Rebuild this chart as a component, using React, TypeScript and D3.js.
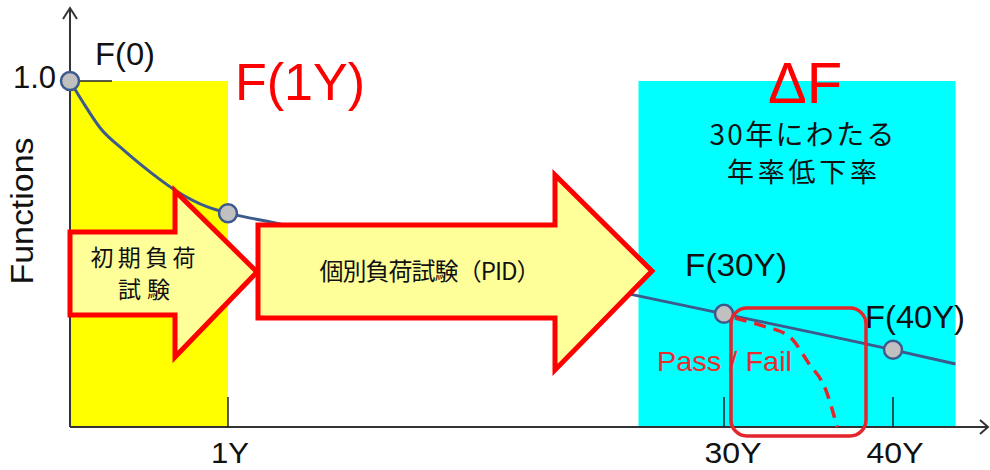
import React from 'react';
import * as d3 from 'd3';

// ---- data ----
const years = [0, 0.08, 0.19, 0.34, 0.51, 0.68, 0.87, 1, 2.9, 10, 20, 24.5, 30, 40, 43.7];
const functionValues = [1.0, 0.94, 0.865, 0.8, 0.736, 0.68, 0.636, 0.618, 0.598, 0.53, 0.43, 0.384, 0.327, 0.223, 0.182];
const markerYears = [0, 1, 30, 40];
const markerValues = [1.0, 0.618, 0.327, 0.223];
const failYears = [30.65, 32.1, 33.9, 35.0, 36.0, 36.7];
const failValues = [0.315, 0.295, 0.26, 0.185, 0.11, 0.0];
const xTickYears = [1, 30, 40];
const xTickLabels = ['1Y', '30Y', '40Y'];
const yTickValues = [1.0];
const yTickLabels = ['1.0'];
const axisBreakYears = [0, 1, 30, 40];
const initialPeriod = [0, 1];
const deltaPeriod = [25, 43.7];

const LATIN = '"Liberation Sans", Arial, sans-serif';
const CJK = '"Noto Sans CJK JP", "Noto Sans", sans-serif';

export default function App() {
  const W = 990, H = 470;
  const x = d3.scaleLinear().domain(axisBreakYears).range([70, 228, 724, 893]);
  const y = d3.scaleLinear().domain([0, 1]).range([427, 81]);
  const x0 = x(0), y0 = y(0);

  const mainLine = d3.line<number>()
    .x((_, i) => x(years[i]))
    .y((_, i) => y(functionValues[i]))
    .curve(d3.curveMonotoneX)(years) as string;

  const failLine = d3.line<number>()
    .x((_, i) => x(failYears[i]))
    .y((_, i) => y(failValues[i]))
    .curve(d3.curveMonotoneX)(failYears) as string;

  const arrow1 = [[70, 232], [175, 232], [175, 191], [257, 272], [175, 357], [175, 315], [70, 315]];
  const arrow2 = [[258, 225], [555, 225], [555, 175], [652, 271], [555, 370], [555, 318], [258, 318]];
  const pts = (p: number[][]) => p.map(q => q.join(',')).join(' ');

  const lineColor = '#3d5a8c';
  const red = '#ff0000';
  const darkRed = '#e3262b';

  return (
    <svg width={W} height={H} style={{ position: 'absolute', left: 0, top: 0, background: '#fff' }}>
      {/* shaded periods */}
      <rect x={x(initialPeriod[0])} y={y(1)} width={x(initialPeriod[1]) - x(initialPeriod[0])} height={y0 - y(1)} fill="#ffff00" />
      <rect x={x(deltaPeriod[0])} y={y(1)} width={x(deltaPeriod[1]) - x(deltaPeriod[0])} height={y0 - y(1)} fill="#00ffff" />

      {/* axes */}
      <line x1={x0} y1={y0} x2={x0} y2={8} stroke="#333" strokeWidth={2} />
      <polyline points="63,19 70,8 77,19" fill="none" stroke="#333" strokeWidth={2} />
      <line x1={x0} y1={y0} x2={988} y2={y0} stroke="#333" strokeWidth={2} />
      <polyline points="980,420 988,427 980,434" fill="none" stroke="#333" strokeWidth={2} />

      {xTickYears.map((t, i) => (
        <g key={'xt' + i}>
          <line x1={x(t)} x2={x(t)} y1={y0 - 30} y2={y0} stroke="#222" strokeWidth={1.5} />
          <text x={x(t) + (i === 1 ? 9 : 2)} y={463} fontFamily={LATIN} fontSize={30} textAnchor="middle" textLength={i === 0 ? 38 : 57} lengthAdjust="spacingAndGlyphs" fill="#111">{xTickLabels[i]}</text>
        </g>
      ))}
      {yTickValues.map((v, i) => (
        <g key={'yt' + i}>
          <line x1={x0} x2={x0 + 42} y1={y(v)} y2={y(v)} stroke="#222" strokeWidth={1.5} />
          <text x={56} y={y(v) + 7} fontFamily={LATIN} fontSize={31} textAnchor="end" fill="#111">{yTickLabels[i]}</text>
        </g>
      ))}

      <text transform={`translate(33,211) rotate(-90)`} fontFamily={LATIN} fontSize={31} textAnchor="middle" textLength={147} lengthAdjust="spacingAndGlyphs" fill="#111">Functions</text>

      {/* curves */}
      <path d={mainLine} fill="none" stroke={lineColor} strokeWidth={3} />
      <path d={failLine} fill="none" stroke={darkRed} strokeWidth={3.5} strokeDasharray="12 8" />

      {/* markers */}
      {markerYears.map((t, i) => (
        <circle key={'m' + i} cx={x(t)} cy={y(markerValues[i])} r={9} fill="#c0c0c0" stroke={lineColor} strokeWidth={2.5} />
      ))}

      {/* arrows */}
      <polygon points={pts(arrow1)} fill="#ffff99" stroke={red} strokeWidth={5} strokeLinejoin="miter" />
      <polygon points={pts(arrow2)} fill="#ffff99" stroke={red} strokeWidth={5} strokeLinejoin="miter" />

      <text x={143} y={266} fontFamily={CJK} fontSize={23} textAnchor="middle" textLength={105} fill="#111">初期負荷</text>
      <text x={144} y={298} fontFamily={CJK} fontSize={23} textAnchor="middle" textLength={52} fill="#111">試験</text>
      <text x={430} y={280} fontFamily={CJK} fontSize={24} textAnchor="middle" textLength={221} fill="#111">個別負荷試験（PID）</text>

      {/* annotations */}
      <text x={95} y={65} fontFamily={LATIN} fontSize={31} textLength={60} lengthAdjust="spacingAndGlyphs" fill="#111">F(0)</text>
      <text x={235} y={100} fontFamily={LATIN} fontSize={52} fill={red}>F(1Y)</text>
      <text x={768} y={103} fontFamily={LATIN} fontSize={58} fill={red}>ΔF</text>
      <text x={802} y={145} fontFamily={CJK} fontSize={28} textAnchor="middle" textLength={185} fill="#111">30年にわたる</text>
      <text x={802} y={182} fontFamily={CJK} fontSize={27} textAnchor="middle" textLength={150} fill="#111">年率低下率</text>
      <text x={685} y={276} fontFamily={LATIN} fontSize={31} textLength={102} lengthAdjust="spacingAndGlyphs" fill="#111">F(30Y)</text>
      <text x={865} y={328} fontFamily={LATIN} fontSize={31} textLength={100} lengthAdjust="spacingAndGlyphs" fill="#111">F(40Y)</text>
      <text x={657} y={371} fontFamily={LATIN} fontSize={28} textLength={135} lengthAdjust="spacingAndGlyphs" fill="#e62e2d">Pass / Fail</text>

      <rect x={731} y={308} width={135} height={128} rx={16} ry={16} fill="none" stroke={darkRed} strokeWidth={3.5} />
    </svg>
  );
}
